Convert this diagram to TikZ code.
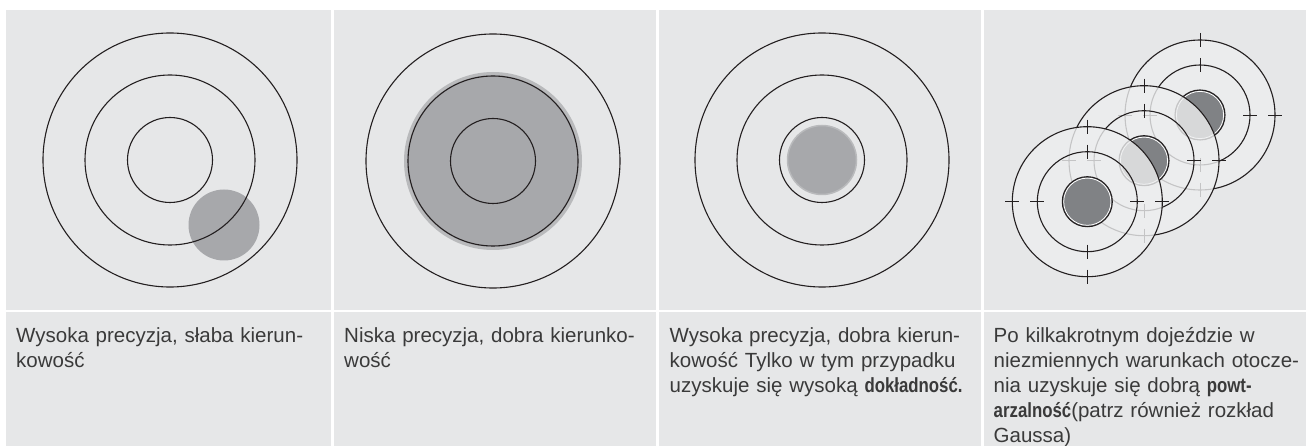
\documentclass[tikz,border=0pt]{standalone}
\usepackage{fontspec}
\setmainfont{Liberation Sans}
\usepackage{xcolor}
\usetikzlibrary{positioning}
\definecolor{cellgrey}{HTML}{E6E7E8}
\definecolor{ringblack}{HTML}{231F20}
\definecolor{spotgrey}{HTML}{A7A8AB}
\definecolor{spotrim}{HTML}{B9BABC}
\definecolor{coregrey}{HTML}{808285}
\definecolor{veilwhite}{HTML}{EDEEEF}
\definecolor{captext}{HTML}{3A3A3A}

\begin{document}
\begin{tikzpicture}[x=1pt,y=-1pt,
  cell/.style={fill=cellgrey},
  ring/.style={draw=ringblack,line width=1.1pt},
  spot/.style={fill=spotgrey,draw=spotrim},
  core/.style={fill=coregrey},
  veil/.style={fill=veilwhite,fill opacity=0.8},
  tick/.style={draw=ringblack,line width=0.7pt},
  caption/.style={anchor=north west,inner sep=0pt,text width=330pt,align=left,
                  font=\fontsize{20.5}{25}\selectfont,text=captext}
]
\useasboundingbox (0,0) rectangle (1306,446);
\fill[white] (0,0) rectangle (1306,446);

\fill[cell] (6,10) rectangle (330.5,309.5);
\fill[cell] (333.5,10) rectangle (655.5,309.5);
\fill[cell] (659,10) rectangle (980.5,309.5);
\fill[cell] (983.5,10) rectangle (1306,309.5);
\fill[cell] (6,312) rectangle (330.5,446);
\fill[cell] (333.5,312) rectangle (655.5,446);
\fill[cell] (659,312) rectangle (980.5,446);
\fill[cell] (983.5,312) rectangle (1306,446);

% high precision, poor direction
\fill[spotgrey] (224,225) circle[radius=35.5];
\draw[ring] (170,160) circle[radius=127] (170,160) circle[radius=85]
            (170,160) circle[radius=42.5];

% low precision, good direction
\draw[spot,line width=3pt] (493,161) circle[radius=87.5];
\draw[ring] (493,161) circle[radius=127] (493,161) circle[radius=85]
            (493,161) circle[radius=42.5];

% high precision, good direction
\draw[spot,line width=1.5pt] (822,160) circle[radius=34.5];
\draw[ring] (822,160) circle[radius=127] (822,160) circle[radius=85]
            (822,160) circle[radius=42.5];

% repeatability
\foreach \cx/\cy in {1200/115,1144/160.7,1087.3/201.7}{
  \fill[veil] (\cx,\cy) circle[radius=75];
  \draw[ring] (\cx,\cy) circle[radius=75] (\cx,\cy) circle[radius=50];
  \fill[core] (\cx,\cy) circle[radius=25];
  \draw[white,line width=0.8pt] (\cx,\cy) circle[radius=23.6];
  \draw[ring] (\cx,\cy) circle[radius=25];
  \foreach \r in {50,75}{
    \draw[tick] (\cx-\r-7,\cy) -- (\cx-\r+7,\cy)
                (\cx+\r-7,\cy) -- (\cx+\r+7,\cy)
                (\cx,\cy-\r-7) -- (\cx,\cy-\r+7)
                (\cx,\cy+\r-7) -- (\cx,\cy+\r+7);
  }
}

\node[caption] (lowdir) at (16,327) {Wysoka precyzja, słaba kierun-\\kowość};
\node[caption] (lowprec) at (344,327) {Niska precyzja, dobra kierunko-\\wość};
\node[caption] (accurate) at (669.5,327) {Wysoka precyzja, dobra kierun-\\kowość Tylko w tym przypadku\\uzyskuje się wysoką \scalebox{0.82}[1]{\bfseries dokładność.}};
\node[caption] (repeat) at (993.5,327) {Po kilkakrotnym dojeździe w\\niezmiennych warunkach otocze-\\nia uzyskuje się dobrą \scalebox{0.82}[1]{\bfseries powt-}\\\scalebox{0.82}[1]{\bfseries arzalność}(patrz również rozkład\\Gaussa)};
\end{tikzpicture}
\end{document}
